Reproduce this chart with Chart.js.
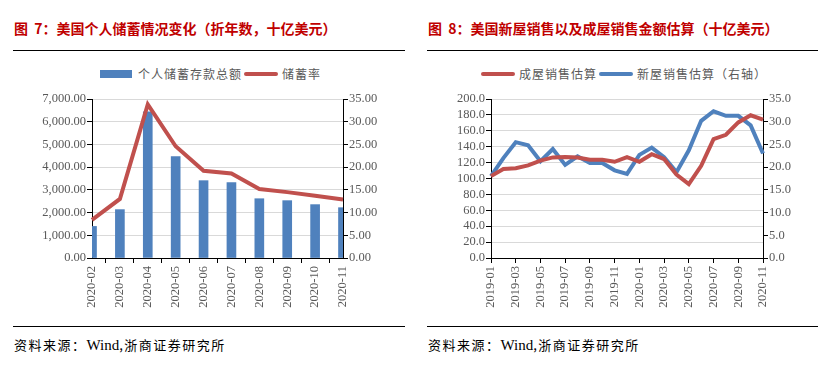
<!DOCTYPE html>
<html>
<head>
<meta charset="utf-8">
<script src="https://cdn.jsdelivr.net/npm/chart.js@4.4.1/dist/chart.umd.min.js"></script>
<style>
    body { margin: 0; background: #fff; width: 839px; height: 365px; position: relative; overflow: hidden; }
    .title { position: absolute; top: 18px; font: bold 14px "Noto Sans CJK SC", sans-serif; color: #C00000; white-space: nowrap; }
    .rule { position: absolute; height: 1px; background: #000; }
    .source { position: absolute; top: 335px; font: 13px "Noto Sans CJK SC", serif; color: #000; letter-spacing: 1.5px; white-space: nowrap; }
    .source b { font: 15px "Liberation Serif", serif; letter-spacing: 0; font-weight: normal; }
    .legend { position: absolute; top: 65px; font: 12px "Noto Sans CJK SC", sans-serif; color: #595959; letter-spacing: 1px; white-space: nowrap; display: flex; align-items: center; }
    .legend i { display: inline-block; width: 34px; margin-right: 4px; }
    .legend span { margin-right: 2px; }
    .box { position: absolute; }
</style>
</head>
<body>

<div class="title" style="left:14px;">图&nbsp;&nbsp;7：美国个人储蓄情况变化（折年数，十亿美元）</div>
<div class="rule" style="left:13px; width:392px; top:50px;"></div>
<div class="title" style="left:428px;">图&nbsp;&nbsp;8：美国新屋销售以及成屋销售金额估算（十亿美元）</div>
<div class="rule" style="left:427px; width:391px; top:50px;"></div>

<div class="legend" style="left:100px;">
    <i style="height:8px; width:32px; background:#4F81BD; margin-right:6px;"></i><span>个人储蓄存款总额</span>
    <i style="height:4px; background:#C0504D; border-radius:2px;"></i><span>储蓄率</span>
</div>
<div class="legend" style="left:481px;">
    <i style="height:4px; background:#C0504D; border-radius:2px;"></i><span>成屋销售估算</span>
    <i style="height:4px; background:#4F81BD; border-radius:2px;"></i><span>新屋销售估算（右轴）</span>
</div>

<div class="box" style="left:0; top:90px; width:420px; height:230px;"><canvas id="savingsChart"></canvas></div>
<div class="box" style="left:420px; top:90px; width:419px; height:230px;"><canvas id="housingChart"></canvas></div>

<div class="rule" style="left:13px; width:392px; top:326px;"></div>
<div class="source" style="left:14px;">资料来源：<b>Wind</b>,浙商证券研究所</div>
<div class="rule" style="left:427px; width:391px; top:326px;"></div>
<div class="source" style="left:428px;">资料来源：<b>Wind</b>,浙商证券研究所</div>

<script>

/* DATOS */

const savingsMonths = ['2020-02', '2020-03', '2020-04', '2020-05', '2020-06', '2020-07', '2020-08', '2020-09', '2020-10', '2020-11'];
const depositTotal = [1390, 2130, 6430, 4460, 3405, 3320, 2610, 2525, 2350, 2215];
const savingRate = [8.4, 13.0, 33.8, 24.6, 19.2, 18.6, 15.2, 14.5, 13.7, 12.9];

const houseMonths = ['2019-01', '2019-02', '2019-03', '2019-04', '2019-05', '2019-06', '2019-07', '2019-08', '2019-09', '2019-10', '2019-11', '2019-12',
    '2020-01', '2020-02', '2020-03', '2020-04', '2020-05', '2020-06', '2020-07', '2020-08', '2020-09', '2020-10', '2020-11'];
const existingSales = [103, 112, 113, 116.5, 122.5, 126.5, 127, 126.5, 123.5, 123.5, 121, 127, 121, 130.5, 124.5, 105, 93, 116, 149.5, 155, 170.5, 179.5, 174];
const newSales = [18.0, 22.0, 25.5, 24.8, 21.3, 24.0, 20.5, 22.4, 20.9, 20.9, 19.3, 18.5, 22.7, 24.3, 22.2, 18.9, 23.7, 30.2, 32.3, 31.3, 31.3, 29.2, 23.0];

const tickFont = { family: 'Liberation Serif', size: 12.5 };
const tickColor = '#595959';

function fixWidth(w){
    return scale => { scale.width = w; };
}

function fixHeight(h){
    return scale => { scale.height = h; };
}

/* GRAFICO AHORRO */

new Chart(document.getElementById("savingsChart"), {
    data: {
        labels: savingsMonths,
        datasets: [{
            type: 'line',
            label: '储蓄率',
            data: savingRate,
            yAxisID: 'y1',
            borderColor: '#C0504D',
            borderWidth: 4,
            pointRadius: 0,
            tension: 0,
            order: 0
        }, {
            type: 'bar',
            label: '个人储蓄存款总额',
            data: depositTotal,
            yAxisID: 'y',
            backgroundColor: '#4F81BD',
            barThickness: 9,
            order: 1
        }]
    },
    options: {
        responsive: true,
        maintainAspectRatio: false,
        animation: false,
        layout: { padding: { top: 9, left: 0, right: 0, bottom: 0 } },
        plugins: { legend: { display: false }, tooltip: { enabled: false } },
        scales: {
            x: {
                offset: false,
                afterFit: fixHeight(62),
                grid: { drawOnChartArea: false, tickLength: 5, tickColor: '#000' },
                border: { color: '#000' },
                ticks: { font: tickFont, color: tickColor, minRotation: 90, maxRotation: 90, autoSkip: false, padding: 3 }
            },
            y: {
                position: 'left',
                min: 0, max: 7000,
                afterFit: fixWidth(92),
                grid: { color: '#D9D9D9', tickLength: 5, tickColor: '#000' },
                border: { color: '#000' },
                ticks: {
                    stepSize: 1000, autoSkip: false, font: tickFont, color: tickColor, padding: 1,
                    callback: v => v.toLocaleString('en-US', { minimumFractionDigits: 2, maximumFractionDigits: 2 })
                }
            },
            y1: {
                position: 'right',
                min: 0, max: 35,
                afterFit: fixWidth(77),
                grid: { drawOnChartArea: false, tickLength: 5, tickColor: '#000' },
                border: { color: '#000' },
                ticks: { stepSize: 5, autoSkip: false, font: tickFont, color: tickColor, padding: 1, callback: v => v.toFixed(2) }
            }
        }
    }
});

/* GRAFICO VIVIENDAS */

new Chart(document.getElementById("housingChart"), {
    type: 'line',
    data: {
        labels: houseMonths,
        datasets: [{
            label: '成屋销售估算',
            data: existingSales,
            yAxisID: 'y',
            borderColor: '#C0504D',
            borderWidth: 4,
            pointRadius: 0,
            tension: 0
        }, {
            label: '新屋销售估算（右轴）',
            data: newSales,
            yAxisID: 'y1',
            borderColor: '#4F81BD',
            borderWidth: 4,
            pointRadius: 0,
            tension: 0
        }]
    },
    options: {
        responsive: true,
        maintainAspectRatio: false,
        animation: false,
        layout: { padding: { top: 9, left: 0, right: 0, bottom: 0 } },
        plugins: { legend: { display: false }, tooltip: { enabled: false } },
        scales: {
            x: {
                afterFit: fixHeight(62),
                grid: { drawOnChartArea: false, tickLength: 5, tickColor: '#000' },
                border: { color: '#000' },
                ticks: {
                    font: tickFont, color: tickColor, minRotation: 90, maxRotation: 90, autoSkip: false, padding: 3,
                    callback: (v, i) => i % 2 === 0 ? houseMonths[i] : null
                }
            },
            y: {
                position: 'left',
                min: 0, max: 200,
                afterFit: fixWidth(71),
                grid: { color: '#D9D9D9', tickLength: 5, tickColor: '#000' },
                border: { color: '#000' },
                ticks: { stepSize: 20, autoSkip: false, font: tickFont, color: tickColor, padding: 1, callback: v => v.toFixed(1) }
            },
            y1: {
                position: 'right',
                min: 0, max: 35,
                afterFit: fixWidth(76),
                grid: { drawOnChartArea: false, tickLength: 5, tickColor: '#000' },
                border: { color: '#000' },
                ticks: { stepSize: 5, autoSkip: false, font: tickFont, color: tickColor, padding: 1, callback: v => v.toFixed(1) }
            }
        }
    }
});

</script>
</body>
</html>
